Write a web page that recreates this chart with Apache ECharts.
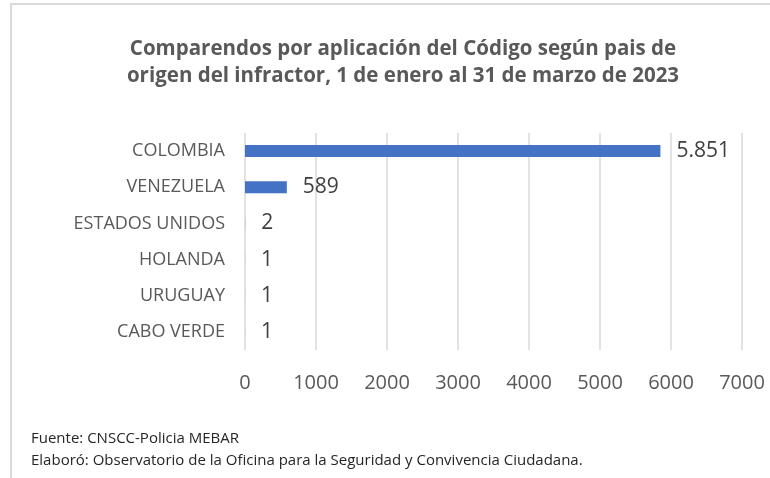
<!DOCTYPE html>
<html>
<head>
<meta charset="utf-8">
<script src="https://cdn.jsdelivr.net/npm/echarts@6/dist/echarts.min.js"></script>
<style>
  html, body { margin: 0; padding: 0; background: #fff; }
  #chart { width: 770px; height: 478px; }
</style>
</head>
<body>
<div id="chart"></div>
<script>
// datos
let paises = ['COLOMBIA', 'VENEZUELA', 'ESTADOS UNIDOS', 'HOLANDA', 'URUGUAY', 'CABO VERDE']
  , comparendos = [5851, 589, 2, 1, 1, 1]
  , ejeMin = 0
  , ejeMax = 7000
  , ejeIntervalo = 1000
  , titulo = 'Comparendos por aplicación del Código según pais de\norigen del infractor, 1 de enero al 31 de marzo de 2023'
  , fuente = 'Fuente: CNSCC-Policia MEBAR'
  , elaboro = 'Elaboró: Observatorio de la Oficina para la Seguridad y Convivencia Ciudadana.'

const fontFam = '"Open Sans", "Liberation Sans", sans-serif'
const gris = '#595959'

// separador de miles con punto
function miles(v) {
  return String(v).replace(/\B(?=(\d{3})+(?!\d))/g, '.')
}

let chart = echarts.init(document.getElementById('chart'))
chart.setOption({
  animation: false,
  backgroundColor: '#fff',
  title: {
    text: titulo,
    left: 398,
    top: 31,
    textAlign: 'center',
    textStyle: {
      fontFamily: fontFam,
      fontSize: 20.5,
      fontWeight: 'bold',
      color: gris,
      lineHeight: 27
    }
  },
  grid: { left: 245, right: 28, top: 133, bottom: 128 },
  xAxis: {
    type: 'value',
    min: ejeMin,
    max: ejeMax,
    interval: ejeIntervalo,
    axisLine: { show: false },
    axisTick: { show: false },
    axisLabel: {
      margin: 23,
      fontFamily: fontFam,
      fontSize: 20,
      color: gris,
      formatter: v => String(v)
    },
    splitLine: { lineStyle: { color: '#d9d9d9', width: 1.5 } }
  },
  yAxis: {
    type: 'category',
    data: paises,
    inverse: true,
    axisLine: { show: false },
    axisTick: { show: false },
    axisLabel: {
      margin: 20,
      fontFamily: fontFam,
      fontSize: 18,
      color: gris
    }
  },
  series: [{
    type: 'bar',
    data: comparendos,
    barWidth: 12,
    itemStyle: { color: '#4472c4' },
    label: {
      show: true,
      position: 'right',
      distance: 16,
      fontFamily: fontFam,
      fontSize: 21,
      color: '#404040',
      formatter: p => miles(p.value)
    }
  }],
  graphic: [
    {
      type: 'rect',
      shape: { x: 11, y: 4, width: 820, height: 520 },
      style: { fill: 'none', stroke: '#d9d9d9', lineWidth: 2 },
      silent: true
    },
    {
      type: 'text',
      left: 31,
      top: 431,
      style: { text: fuente, font: '15px ' + fontFam, fill: '#262626' }
    },
    {
      type: 'text',
      left: 31,
      top: 453,
      style: { text: elaboro, font: '15px ' + fontFam, fill: '#262626' }
    }
  ]
})
</script>
</body>
</html>
